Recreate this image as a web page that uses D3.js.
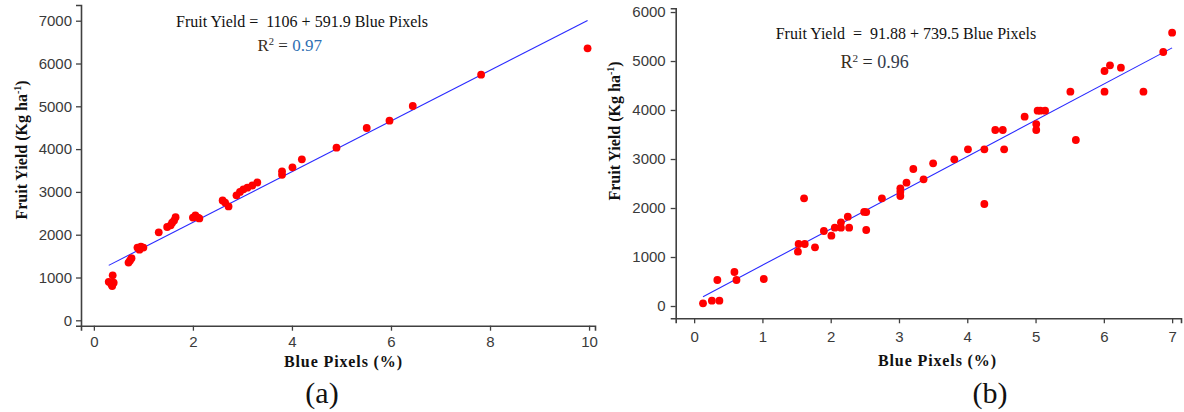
<!DOCTYPE html>
<html>
<head>
<meta charset="utf-8">
<script src="https://cdn.jsdelivr.net/npm/d3@7"></script>
<style>
  html, body { margin: 0; padding: 0; background: #fff; }
  svg { display: block; }
</style>
</head>
<body>
<svg id="chart" width="1184" height="412"></svg>
<script>
// ---------- DATA ----------
// Panel (a)
const aBluePixels = [0.30,0.35,0.37,0.38,0.40,0.70,0.73,0.76,0.88,0.92,0.95,1.00,1.31,1.48,1.55,1.58,1.62,1.65,2.00,2.05,2.10,2.13,2.60,2.65,2.72,2.88,2.95,3.02,3.10,3.20,3.30,3.80,3.80,4.01,4.20,4.90,5.51,5.97,6.44,7.82,9.97];
const aFruitYield = [900,850,800,1050,880,1350,1400,1450,1700,1650,1720,1700,2056,2180,2220,2280,2330,2410,2400,2450,2400,2380,2800,2750,2660,2920,3000,3060,3100,3150,3220,3480,3400,3575,3762,4033,4493,4664,5007,5738,6355];
const aXTicks = [0, 2, 4, 6, 8, 10];
const aYTicks = [0, 1000, 2000, 3000, 4000, 5000, 6000, 7000];
const aFit = [1106, 591.9];          // intercept, slope
const aEquation = ["Fruit Yield =  1106 + 591.9 Blue Pixels"];
const aR2 = ["0.97"];
const aLabel = ["(a)"];

// Panel (b)
const bBluePixels = [0.13,0.26,0.37,0.34,0.59,0.62,1.02,1.52,1.53,1.62,1.61,1.77,1.90,2.01,2.06,2.15,2.15,2.25,2.27,2.49,2.52,2.52,2.75,3.02,3.02,3.02,3.11,3.21,3.36,3.50,3.81,4.01,4.25,4.25,4.41,4.52,4.54,4.84,5.01,5.01,5.03,5.07,5.14,5.51,5.59,6.01,6.01,6.09,6.25,6.58,6.87,7.00];
const bFruitYield = [55,108,108,531,694,531,551,1108,1265,1265,2197,1197,1531,1435,1599,1708,1599,1823,1599,1920,1918,1551,2197,2401,2333,2245,2517,2796,2585,2912,2993,3197,3197,2082,3592,3592,3197,3864,3714,3592,3986,3986,3986,4374,3388,4796,4374,4912,4864,4374,5184,5578];
const bXTicks = [0, 1, 2, 3, 4, 5, 6, 7];
const bYTicks = [0, 1000, 2000, 3000, 4000, 5000, 6000];
const bFit = [91.88, 739.5];
const bEquation = ["Fruit Yield  =  91.88 + 739.5 Blue Pixels"];
const bR2 = ["0.96"];
const bLabel = ["(b)"];

const xTitle = "Blue Pixels (%)";
const yTitle = "Fruit Yield (Kg ha";

// ---------- DRAW ----------
const svg = d3.select("#chart");
svg.append("rect").attr("width", 1184).attr("height", 412).attr("fill", "#fff");

const tickFont = "'Liberation Sans', Arial, sans-serif";
const serif = "'Liberation Serif', 'Times New Roman', serif";

function panel(cfg) {
  const x = d3.scaleLinear().domain(cfg.xDomain).range(cfg.xRange);
  const y = d3.scaleLinear().domain(cfg.yDomain).range(cfg.yRange);
  const g = svg.append("g");

  // axes
  const xAxis = g.append("g")
    .attr("transform", `translate(0,${cfg.yRange[0]})`)
    .call(d3.axisBottom(x).tickValues(cfg.xTicks).tickSizeOuter(0).tickSize(5).tickPadding(cfg.xPad).tickFormat(d3.format("d")));
  const yAxis = g.append("g")
    .attr("transform", `translate(${cfg.xRange[0]},0)`)
    .call(d3.axisLeft(y).tickValues(cfg.yTicks).tickSizeOuter(0).tickSize(5).tickPadding(cfg.yPad).tickFormat(d3.format("d")));
  [xAxis, yAxis].forEach(a => {
    a.selectAll("path.domain").attr("stroke", "#404040").attr("stroke-width", 1.6);
    a.selectAll(".tick line").attr("stroke", "#404040").attr("stroke-width", 1.3);
    a.selectAll(".tick text").attr("fill", "#3a3a3a").style("font-family", tickFont).style("font-size", "15px");
  });

  // regression line
  const xs = cfg.xs, ys = cfg.ys;
  const x0 = d3.min(xs), x1 = d3.max(xs);
  g.append("line")
    .attr("x1", x(x0)).attr("y1", y(cfg.fit[0] + cfg.fit[1] * x0))
    .attr("x2", x(x1)).attr("y2", y(cfg.fit[0] + cfg.fit[1] * x1))
    .attr("stroke", "#2a2aff").attr("stroke-width", 1.1);

  // points
  g.selectAll("circle").data(xs.map((v, i) => [v, ys[i]])).join("circle")
    .attr("cx", d => x(d[0])).attr("cy", d => y(d[1])).attr("r", 3.9)
    .attr("fill", "#ff0000");

  // equation
  g.append("text").attr("x", cfg.eqX).attr("y", cfg.eqY)
    .attr("text-anchor", "middle").style("white-space", "pre").attr("xml:space", "preserve")
    .style("font-family", serif).style("font-size", cfg.eqSize + "px").attr("fill", "#111")
    .text(cfg.eq);
  const r = g.append("text").attr("x", cfg.rX).attr("y", cfg.rY)
    .style("font-family", serif).style("font-size", cfg.rSize + "px").attr("fill", "#2a2a2a");
  r.append("tspan").text("R").attr("fill", "#3a2d1a");
  r.append("tspan").text("2").attr("dy", -6).style("font-size", (cfg.rSize * 0.62) + "px");
  r.append("tspan").text(" = ").attr("dy", 6);
  r.append("tspan").text(cfg.r2).attr("fill", cfg.r2Color);

  // x title
  g.append("text").attr("x", cfg.xtX).attr("y", cfg.xtY).attr("text-anchor", "middle")
    .style("font-family", serif).style("font-weight", "bold").style("font-size", "16px")
    .attr("fill", "#111").attr("textLength", 118).attr("lengthAdjust", "spacing")
    .text(xTitle);

  // y title
  const yt = g.append("text")
    .attr("transform", `translate(${cfg.ytX},${cfg.ytY}) rotate(-90)`)
    .attr("text-anchor", "middle")
    .style("font-family", serif).style("font-weight", "bold").style("font-size", "16px")
    .attr("fill", "#111");
  yt.append("tspan").text(yTitle);
  yt.append("tspan").text("-1").attr("dy", -6).style("font-size", "10px");
  yt.append("tspan").text(")").attr("dy", 6);

  // panel label
  g.append("text").attr("x", cfg.lX).attr("y", cfg.lY).attr("text-anchor", "middle")
    .style("font-family", serif).style("font-size", "30px").attr("fill", "#111")
    .text(cfg.label);
}

panel({
  xs: aBluePixels, ys: aFruitYield, xTicks: aXTicks, yTicks: aYTicks, fit: aFit,
  xDomain: [-0.26, 10.12], xRange: [81, 595],
  yDomain: [-126, 7367], yRange: [325.7, 5],
  xPad: 6, yPad: 4,
  eq: aEquation[0], eqX: 302, eqY: 26.5, eqSize: 16,
  r2: aR2[0], rX: 257.5, rY: 50.5, rSize: 17, r2Color: "#2f6fb3",
  xtX: 343, xtY: 367, ytX: 27, ytY: 150,
  label: aLabel[0], lX: 322, lY: 403
});

panel({
  xs: bBluePixels, ys: bFruitYield, xTicks: bXTicks, yTicks: bYTicks, fit: bFit,
  xDomain: [-0.27, 7.13], xRange: [675.7, 1181],
  yDomain: [-251, 6076], yRange: [318.3, 8.3],
  xPad: 8, yPad: 5,
  eq: bEquation[0], eqX: 906, eqY: 38.5, eqSize: 16,
  r2: bR2[0], rX: 840.5, rY: 68, rSize: 18, r2Color: "#333a4a",
  xtX: 937, xtY: 366, ytX: 620, ytY: 131,
  label: bLabel[0], lX: 990, lY: 403
});
</script>
</body>
</html>
